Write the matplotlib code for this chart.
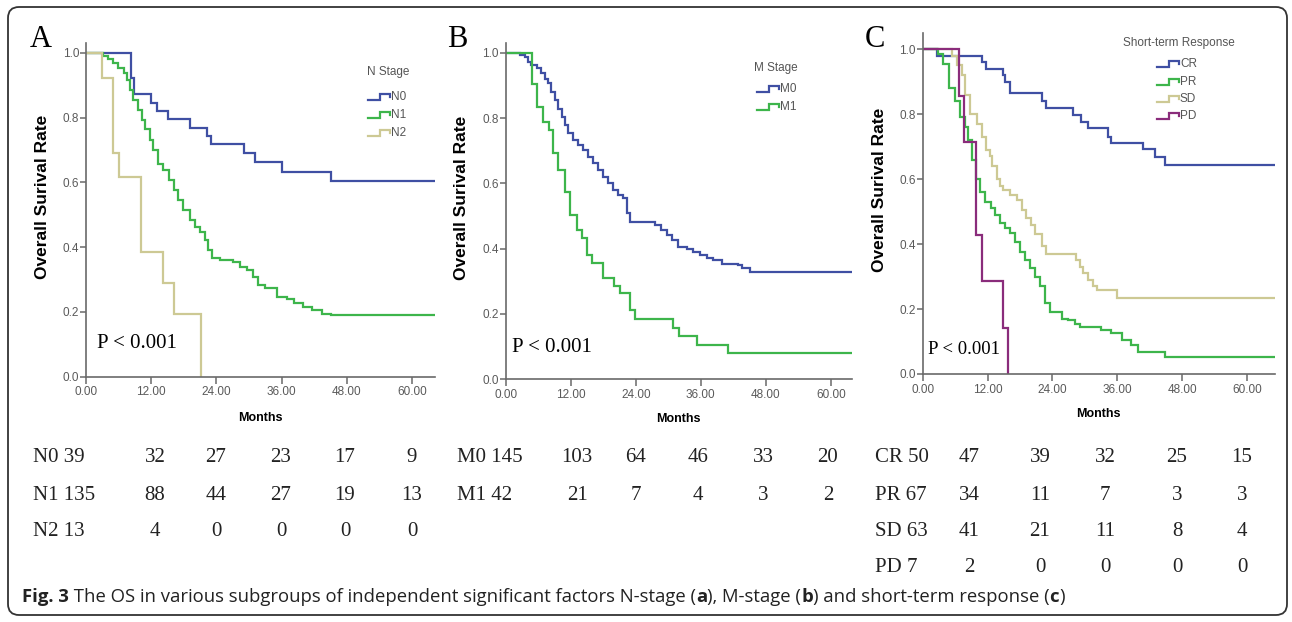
import matplotlib
matplotlib.use("Agg")
import matplotlib.pyplot as plt
from matplotlib.patches import FancyBboxPatch
from matplotlib.lines import Line2D
from matplotlib.transforms import IdentityTransform
from matplotlib.ticker import FormatStrFormatter

# ---------------- data ----------------
# Panel A: N stage
n0_t = [0, 8.2, 8.8, 12.0, 13.1, 15.0, 19.1, 22.2, 23.0, 29.0, 31.1, 36.0, 45.0, 64.2]
n0_s = [1.0, 0.923, 0.872, 0.846, 0.821, 0.795, 0.769, 0.744, 0.718, 0.690, 0.662, 0.633, 0.604, 0.604]
n1_t = [0, 3.2, 4.1, 5.0, 5.9, 6.9, 7.5, 8.1, 8.7, 9.6, 10.3, 10.9, 11.8, 12.4, 13.3, 14.2, 15.2, 16.1,
        17.0, 17.9, 19.1, 20.1, 21.0, 21.9, 22.5, 23.1, 24.7, 27.1, 28.3, 29.6, 30.8, 31.7, 33.0, 35.1,
        36.9, 38.2, 40.0, 41.5, 43.4, 45.0, 64.2]
n1_s = [1.0, 0.99, 0.982, 0.969, 0.952, 0.936, 0.916, 0.885, 0.854, 0.823, 0.792, 0.766, 0.730, 0.700,
        0.658, 0.638, 0.607, 0.576, 0.545, 0.514, 0.484, 0.463, 0.448, 0.422, 0.391, 0.365, 0.360, 0.355,
        0.340, 0.329, 0.309, 0.283, 0.273, 0.247, 0.239, 0.226, 0.216, 0.206, 0.195, 0.189, 0.189]
n2_t = [0, 3.0, 5.0, 6.0, 10.1, 14.1, 16.1, 21.1]
n2_s = [1.0, 0.923, 0.692, 0.615, 0.385, 0.288, 0.192, 0.0]

# Panel B: M stage
m0_t = [0, 2.6, 3.5, 4.1, 4.7, 5.7, 6.6, 7.2, 7.8, 8.4, 9.1, 9.7, 10.3, 10.9, 11.5, 12.4, 13.4, 14.3,
        15.2, 16.1, 17.1, 18.0, 18.9, 19.8, 20.7, 21.7, 22.3, 22.9, 27.5, 28.7, 29.7, 30.6, 31.8, 33.4,
        34.6, 35.9, 37.1, 38.3, 39.9, 42.9, 43.6, 45.1, 63.9]
m0_s = [1.0, 0.993, 0.988, 0.972, 0.962, 0.952, 0.937, 0.921, 0.906, 0.880, 0.855, 0.829, 0.804, 0.778,
        0.753, 0.732, 0.717, 0.702, 0.681, 0.661, 0.641, 0.620, 0.600, 0.579, 0.564, 0.554, 0.508, 0.482,
        0.472, 0.457, 0.441, 0.426, 0.406, 0.400, 0.390, 0.380, 0.370, 0.365, 0.354, 0.349, 0.339, 0.329,
        0.329]
m1_t = [0, 4.8, 5.85, 6.95, 7.9, 8.8, 9.7, 10.95, 11.9, 13.1, 14.0, 14.95, 15.9, 18.0, 19.9, 21.1,
        22.95, 23.9, 30.95, 31.9, 35.3, 41.1, 63.9]
m1_s = [1.0, 0.905, 0.835, 0.789, 0.763, 0.692, 0.641, 0.574, 0.503, 0.457, 0.432, 0.381, 0.355, 0.309,
        0.284, 0.263, 0.212, 0.184, 0.156, 0.131, 0.105, 0.080, 0.080]

# Panel C: short-term response
cr_t = [0, 2.6, 10.9, 11.8, 14.8, 15.3, 16.1, 22.0, 22.9, 27.9, 29.3, 30.6, 34.3, 34.9, 40.8, 43.0, 44.8, 65.2]
cr_s = [1.0, 0.98, 0.96, 0.94, 0.92, 0.90, 0.864, 0.84, 0.818, 0.798, 0.777, 0.757, 0.731, 0.712, 0.692,
        0.668, 0.645, 0.645]
pr_t = [0, 2.9, 3.8, 4.8, 5.9, 6.9, 7.8, 8.4, 9.1, 9.9, 10.6, 11.5, 12.6, 13.4, 14.3, 15.2, 16.1, 17.1,
        18.0, 18.9, 19.8, 20.8, 21.7, 22.6, 23.5, 25.7, 26.9, 28.2, 29.1, 33.0, 34.9, 36.8, 38.6, 39.9,
        44.8, 65.2]
pr_s = [1.0, 0.985, 0.955, 0.88, 0.84, 0.79, 0.76, 0.72, 0.66, 0.60, 0.56, 0.53, 0.51, 0.49, 0.465, 0.45,
        0.435, 0.405, 0.375, 0.35, 0.325, 0.30, 0.27, 0.22, 0.19, 0.17, 0.165, 0.155, 0.146, 0.136, 0.125,
        0.105, 0.089, 0.069, 0.053, 0.053]
sd_t = [0, 5.4, 6.3, 7.2, 7.8, 8.75, 10.0, 10.9, 11.8, 12.4, 12.8, 13.7, 14.3, 14.9, 16.1, 17.4, 18.3,
        19.2, 20.0, 20.8, 22.0, 22.9, 28.4, 29.1, 29.7, 30.6, 31.6, 32.2, 35.9, 65.2]
sd_s = [1.0, 0.98, 0.95, 0.92, 0.86, 0.80, 0.77, 0.73, 0.69, 0.67, 0.64, 0.60, 0.58, 0.567, 0.55, 0.535,
        0.505, 0.48, 0.46, 0.43, 0.395, 0.37, 0.35, 0.33, 0.31, 0.29, 0.27, 0.259, 0.233, 0.233]
pd_t = [0, 6.8, 7.7, 9.9, 10.9, 14.9, 15.8]
pd_s = [1.0, 0.857, 0.714, 0.429, 0.286, 0.143, 0.0]

# numbers at risk (0, 12, 24, 36, 48, 60 months)
a_groups = ["N0", "N1", "N2"]
a_risk = [[39, 32, 27, 23, 17, 9], [135, 88, 44, 27, 19, 13], [13, 4, 0, 0, 0, 0]]
b_groups = ["M0", "M1"]
b_risk = [[145, 103, 64, 46, 33, 20], [42, 21, 7, 4, 3, 2]]
c_groups = ["CR", "PR", "SD", "PD"]
c_risk = [[50, 47, 39, 32, 25, 15], [67, 34, 11, 7, 3, 3], [63, 41, 21, 11, 8, 4], [7, 2, 0, 0, 0, 0]]

x_ticks = [0, 12, 24, 36, 48, 60]
y_ticks = [0.0, 0.2, 0.4, 0.6, 0.8, 1.0]

# ---------------- style ----------------
BLUE = "#3f4fa3"
GREEN = "#3db54b"
TAN = "#cdc994"
PURPLE = "#8a2c7b"
AXC = "#6a6a6a"
SANS = ["Liberation Sans", "DejaVu Sans"]
SERIF = ["Liberation Serif", "DejaVu Serif"]

W, H = 1292, 622
fig = plt.figure(figsize=(W / 100, H / 100), dpi=100)
fig.patch.set_facecolor("white")


def fx(px):
    return px / W


def fy(py):
    return 1 - py / H


# frame
frame = FancyBboxPatch((8, H - 615), 1279, 608, boxstyle="round,pad=0,rounding_size=11",
                       transform=IdentityTransform(), facecolor="none", edgecolor="#333333", lw=1.3)
fig.add_artist(frame)

panels = [
    dict(box=(86, 43, 435, 376.7), xmax=64.2, ymax=1.03, letter="A", letter_x=30,
         series=[(n0_t, n0_s, BLUE), (n1_t, n1_s, GREEN), (n2_t, n2_s, TAN)],
         leg_title="N Stage", leg_title_xy=(388, 72), leg_x=368, leg_rows=[96.7, 115, 133],
         labels=a_groups, p_xy=(97, 343), p_size=15, months_y=418, ylab_x=43,
         risk=a_risk, risk_label_x=33, risk_cols=[155, 216, 281, 345, 412]),
    dict(box=(505.7, 43.3, 852, 379), xmax=63.9, ymax=1.029, letter="B", letter_x=447,
         series=[(m0_t, m0_s, BLUE), (m1_t, m1_s, GREEN)],
         leg_title="M Stage", leg_title_xy=(776, 68), leg_x=757, leg_rows=[89, 107],
         labels=b_groups, p_xy=(512, 348), p_size=15, months_y=419, ylab_x=462,
         risk=b_risk, risk_label_x=457, risk_cols=[577, 636, 698, 763, 828]),
    dict(box=(922.7, 33.3, 1275, 374), xmax=65.2, ymax=1.049, letter="C", letter_x=865,
         series=[(cr_t, cr_s, BLUE), (pr_t, pr_s, GREEN), (sd_t, sd_s, TAN), (pd_t, pd_s, PURPLE)],
         leg_title="Short-term Response", leg_title_xy=(1179, 43), leg_x=1157, leg_rows=[64, 82, 99, 116],
         labels=c_groups, p_xy=(928, 350), p_size=13.5, months_y=414, ylab_x=880,
         risk=c_risk, risk_label_x=875, risk_cols=[969, 1040, 1105, 1177, 1242]),
]

risk_rows_y = [458, 495, 531, 567]

for P in panels:
    l, t, r, b = P["box"]
    ax = fig.add_axes([fx(l), fy(b), (r - l) / W, (b - t) / H])
    for tt, ss, col in P["series"]:
        ax.step(tt, ss, where="post", color=col, lw=1.6, solid_joinstyle="miter")
    ax.set_xlim(0, P["xmax"])
    ax.set_ylim(0, P["ymax"])
    ax.set_xticks(x_ticks)
    ax.set_yticks(y_ticks)
    ax.xaxis.set_major_formatter(FormatStrFormatter("%.2f"))
    ax.yaxis.set_major_formatter(FormatStrFormatter("%.1f"))
    for s in ["top", "right"]:
        ax.spines[s].set_visible(False)
    for s in ["left", "bottom"]:
        ax.spines[s].set_color(AXC)
        ax.spines[s].set_linewidth(1.2)
    ax.tick_params(axis="x", direction="out", length=5, width=1.1, color=AXC, labelcolor="#5a5a5a",
                   labelsize=8.5, pad=2)
    ax.tick_params(axis="y", direction="out", length=4, width=1.1, color=AXC, labelcolor="#5a5a5a",
                   labelsize=8.5, pad=1)
    for lab in ax.get_xticklabels() + ax.get_yticklabels():
        lab.set_family(SANS)
    ax.set_facecolor("none")
    ax.set_xlabel("Months", fontsize=9, fontweight="bold", family=SANS, va="center")
    ax.xaxis.set_label_coords(0.5, (b - P["months_y"]) / (b - t))
    ax.set_ylabel("Overall Surival Rate", fontsize=12.5, fontweight="bold", family=SANS, va="center")
    ax.yaxis.set_label_coords((P["ylab_x"] - l) / (r - l), 0.54)

    # panel letter
    fig.text(fx(P["letter_x"]), fy(47), P["letter"], fontsize=22, family=SERIF, ha="left", va="baseline")
    # p-value
    fig.text(fx(P["p_xy"][0]), fy(P["p_xy"][1]), "P < 0.001", fontsize=P["p_size"], family=SERIF,
             ha="left", va="center")
    # legend
    tx, ty = P["leg_title_xy"]
    fig.text(fx(tx), fy(ty), P["leg_title"], fontsize=8.5, color="#555555", family=SANS,
             ha="center", va="center")
    x0 = P["leg_x"]
    for (tt, ss, col), lab, ry in zip(P["series"], P["labels"], P["leg_rows"]):
        px = [x0, x0 + 12, x0 + 12, x0 + 22, x0 + 22]
        py = [ry + 3, ry + 3, ry - 3, ry - 3, ry]
        fig.add_artist(Line2D([fx(v) for v in px], [fy(v) for v in py], color=col, lw=1.6,
                              transform=fig.transFigure, solid_joinstyle="miter"))
        fig.text(fx(x0 + 23), fy(ry), lab, fontsize=8.5, color="#555555", family=SANS,
                 ha="left", va="center")
    # numbers at risk
    for lab, vals, ry in zip(P["labels"], P["risk"], risk_rows_y):
        fig.text(fx(P["risk_label_x"]), fy(ry), f"{lab} {vals[0]}", fontsize=15, family=SERIF,
                 ha="left", va="center", color="#222222")
        for v, cx in zip(vals[1:], P["risk_cols"]):
            fig.text(fx(cx), fy(ry), str(v), fontsize=15, family=SERIF, ha="center", va="center",
                     color="#222222")

# caption with bold pieces
renderer = fig.canvas.get_renderer()
pieces = [("Fig. 3", "bold"),
          (" The OS in various subgroups of independent significant factors N-stage (", "normal"),
          ("a", "bold"), ("), M-stage (", "normal"), ("b", "bold"),
          (") and short-term response (", "normal"), ("c", "bold"), (")", "normal")]
cx = 22
for s, wgt in pieces:
    tx = fig.text(fx(cx), fy(597), s, fontsize=13.3, fontweight=wgt, family=["Open Sans", "DejaVu Sans"],
                  ha="left", va="center", color="#222222")
    bb = tx.get_window_extent(renderer)
    cx += bb.width

fig.savefig("out.png", dpi=100, facecolor="white")
